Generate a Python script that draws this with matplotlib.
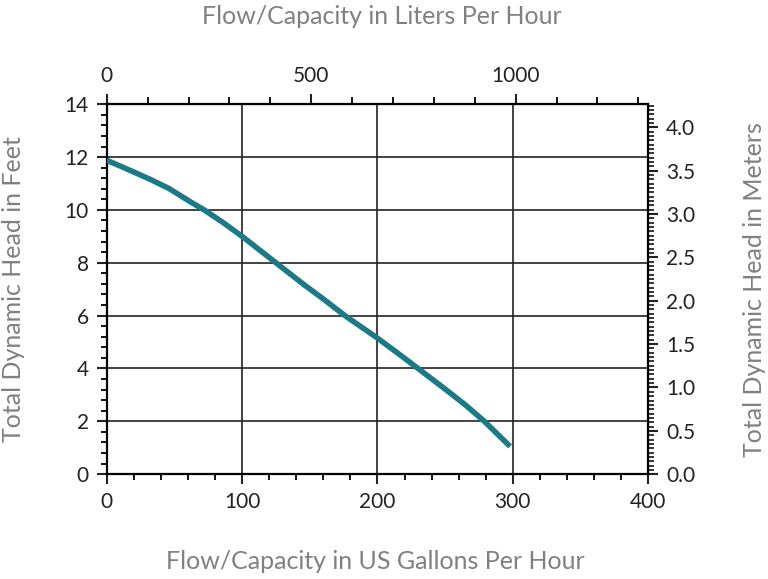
import matplotlib.pyplot as plt
from matplotlib.ticker import MultipleLocator, FixedLocator

# pump curve
flow_gph = [0, 18, 32, 46, 62, 72, 86, 100, 125, 145, 160, 176, 200, 215, 230, 250, 265, 279, 298]
head_ft = [11.88, 11.48, 11.16, 10.81, 10.30, 10.0, 9.52, 9.0, 8.0, 7.2, 6.63, 6.0, 5.15, 4.58, 4.0, 3.22, 2.62, 2.0, 1.05]

x_ticks = [0, 100, 200, 300, 400]
y_ticks = [0, 2, 4, 6, 8, 10, 12, 14]
top_ticks = [0, 500, 1000]
right_ticks = [0.0, 0.5, 1.0, 1.5, 2.0, 2.5, 3.0, 3.5, 4.0]

LITERS_PER_GPH = 3.31  # as drawn on the original top scale
M_PER_FT = 0.3048

plt.rcParams['font.family'] = ['Lato', 'DejaVu Sans']

fig = plt.figure(figsize=(7.68, 5.79), dpi=100)
ax = fig.add_axes([0.139, 0.181, 0.705, 0.639])

ax.plot(flow_gph, head_ft, color='#1b7a86', linewidth=4, solid_capstyle='butt', zorder=3)

ax.set_xlim(0, 400)
ax.set_ylim(0, 14)
ax.set_xticks(x_ticks)
ax.set_yticks(y_ticks)
ax.xaxis.set_minor_locator(MultipleLocator(20))
ax.yaxis.set_minor_locator(MultipleLocator(0.4))
ax.grid(True, which='major', color='#222222', linewidth=1.2)
for s in ax.spines.values():
    s.set_linewidth(1.6)
ax.tick_params(which='major', length=7, width=1.5, labelsize=15, colors='#222222', pad=6)
ax.tick_params(which='minor', length=4, width=1.3)

top = ax.secondary_xaxis('top', functions=(lambda g: g * LITERS_PER_GPH, lambda l: l / LITERS_PER_GPH))
top.xaxis.set_major_locator(FixedLocator(top_ticks))
top.xaxis.set_minor_locator(MultipleLocator(100))
top.tick_params(which='major', length=7, width=1.5, labelsize=15, colors='#222222', pad=6)
top.tick_params(which='minor', length=5, width=1.3)

right = ax.secondary_yaxis('right', functions=(lambda f: f * M_PER_FT, lambda m: m / M_PER_FT))
right.yaxis.set_major_locator(FixedLocator(right_ticks))
right.yaxis.set_minor_locator(MultipleLocator(0.05))
right.set_yticklabels([f'{v:.1f}' for v in right_ticks])
right.tick_params(which='major', length=7, width=1.5, labelsize=15, colors='#222222', pad=6)
right.tick_params(which='minor', length=4, width=1.1)

label_color = '#808080'
fig.text(0.497, 0.972, 'Flow/Capacity in Liters Per Hour', ha='center', va='center', fontsize=18, color=label_color)
fig.text(0.489, 0.03, 'Flow/Capacity in US Gallons Per Hour', ha='center', va='center', fontsize=18, color=label_color)
fig.text(0.018, 0.5, 'Total Dynamic Head in Feet', ha='center', va='center', rotation=90, fontsize=18, color=label_color)
fig.text(0.982, 0.5, 'Total Dynamic Head in Meters', ha='center', va='center', rotation=90, fontsize=18, color=label_color)

fig.savefig('out.png', dpi=100)
